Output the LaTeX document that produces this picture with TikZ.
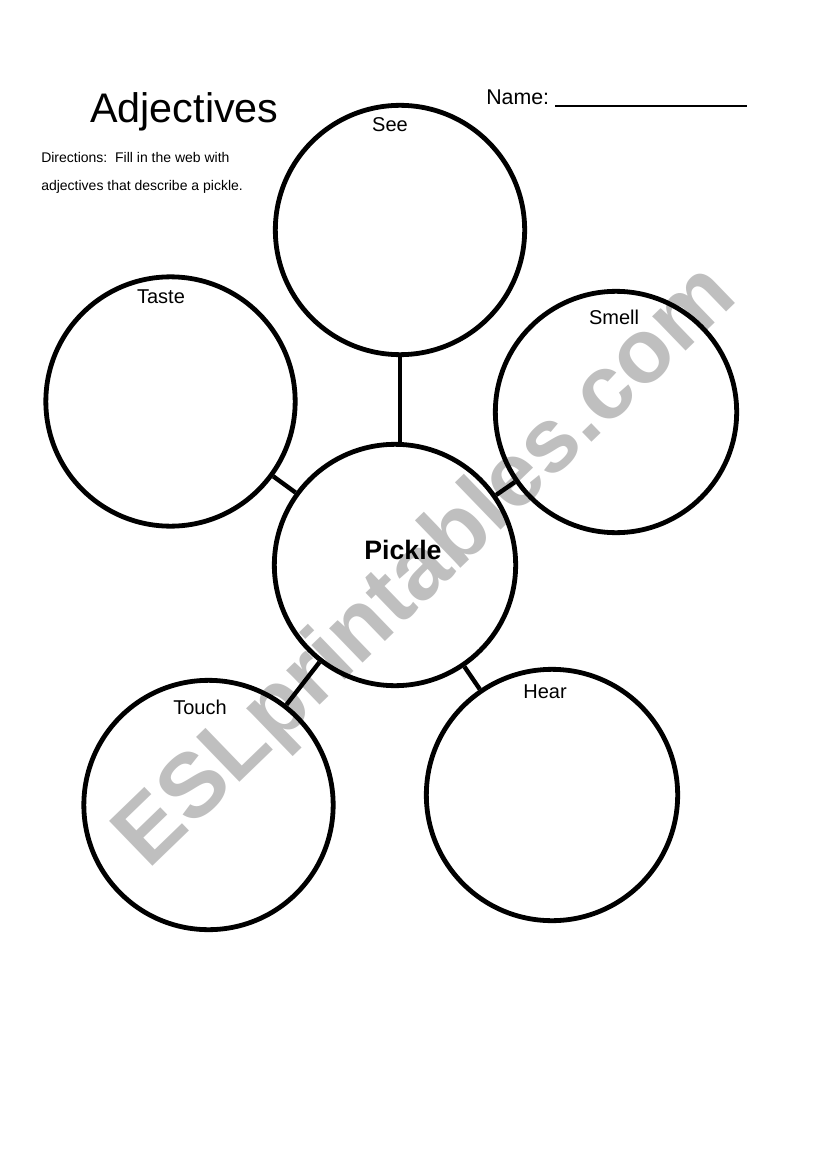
\documentclass[tikz,border=0pt]{standalone}
\usepackage{fontspec}
\setmainfont{Liberation Sans}
\usetikzlibrary{positioning}
\tikzset{
    webcircle/.style={
        circle,
        draw,
        line width=3.6pt,
        inner sep=0pt
    },
    sense/.style={
        font=\fontsize{15}{18}\selectfont,
        inner sep=0pt
    },
    link/.style={
        line width=3.3pt
    },
    watermark/.style={
        text=black!25,
        font=\fontsize{68}{80}\selectfont\bfseries,
        rotate=44,
        anchor=base,
        inner sep=0pt
    }
}

\begin{document}
\begin{tikzpicture}[x=0.75pt, y=-0.75pt]
                \useasboundingbox (0,0) rectangle (821,1169);
                \node[watermark] (wm) at (444,585) {ESLprintables.com};

                \node[anchor=base west, inner sep=0pt, font=\fontsize{31}{36}\selectfont] (title) at (90,123) {Adjectives};
                \node[anchor=base west, inner sep=0pt, font=\fontsize{10.5}{13}\selectfont] (dirA) at (41,163) {Directions:\ \ Fill in the web with};
                \node[anchor=base west, inner sep=0pt, font=\fontsize{10.5}{13}\selectfont] (dirB) at (41,191) {adjectives that describe a pickle.};
                \node[anchor=base west, inner sep=0pt, font=\fontsize{16}{19}\selectfont] (name) at (486,105) {Name:};
                \coordinate (blankL) at (555,106);
                \coordinate (blankR) at (747,106);
                \draw[line width=2pt] (blankL) -- (blankR);

                \node[webcircle, minimum size=187pt] (see) at (400,230) {};
                \node[webcircle, minimum size=187pt] (taste) at (170.5,401.5) {};
                \node[webcircle, minimum size=181pt] (smell) at (616,412) {};
                \node[webcircle, minimum size=181pt] (pickle) at (395,565) {};
                \node[webcircle, minimum size=187pt] (touch) at (208.5,805) {};
                \node[webcircle, minimum size=188.5pt] (hear) at (552,795) {};

                \node[sense] (seeL) at (390,124.5) {See};
                \node[sense] (tasteL) at (161,297) {Taste};
                \node[sense] (smellL) at (614,317.5) {Smell};
                \node[sense] (touchL) at (200,707) {Touch};
                \node[sense] (hearL) at (545,692) {Hear};
                \node[inner sep=0pt, font=\fontsize{20}{24}\selectfont\bfseries] (pickleL) at (403,550) {Pickle};

                \draw[link] (see) -- (see |- pickle.north);
                \draw[link] (taste) -- (pickle);
                \draw[link] (smell) -- (pickle);
                \draw[link] (touch) -- (pickle);
                \draw[link] (hear) -- (pickle);
            \end{tikzpicture}
\end{document}
